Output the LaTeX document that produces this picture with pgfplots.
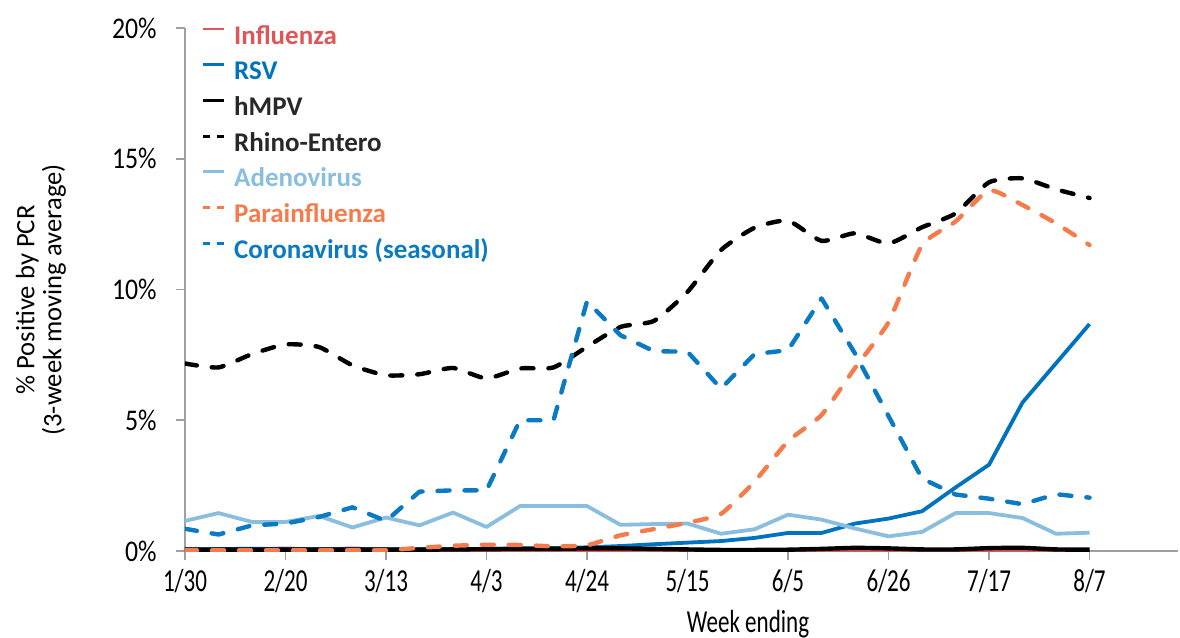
\documentclass[border=0pt]{standalone}
\usepackage{fontspec}
\setmainfont{Carlito}
\usepackage{pgfplots}
\usepackage{pgfplotstable}
\pgfplotsset{compat=1.18}
\definecolor{flu}{RGB}{220,88,88}
\definecolor{rsv}{RGB}{0,115,190}
\definecolor{hmpvtxt}{RGB}{40,40,40}
\definecolor{adeno}{RGB}{137,190,222}
\definecolor{para}{RGB}{244,124,76}
\definecolor{corona}{RGB}{10,122,195}
\definecolor{axisgray}{RGB}{160,160,160}

\pgfplotsset{
  solidleg/.style={legend image code/.code={\draw[##1, line width=1.4pt, line cap=butt] (0pt,4pt) -- (10.5pt,4pt);}},
  dashleg/.style={legend image code/.code={\draw[##1, solid, line width=1.4pt, line cap=butt] (0pt,4pt) -- (3.5pt,4pt) (7pt,4pt) -- (10.5pt,4pt);}},
}

\pgfplotstableread{
i flu rsv hmpv rhino adeno para corona
0 0.03 0.07 0.05 7.17 1.15 0.03 0.85
1 0.03 0.07 0.05 7.02 1.45 0.03 0.63
2 0.06 0.09 0.05 7.53 1.11 0.03 0.98
3 0.10 0.07 0.05 7.90 1.11 0.03 1.05
4 0.06 0.07 0.05 7.80 1.34 0.03 1.30
5 0.10 0.07 0.05 7.10 0.90 0.03 1.67
6 0.05 0.07 0.05 6.72 1.28 0.03 1.15
7 0.03 0.07 0.05 6.76 0.98 0.12 2.27
8 0.03 0.08 0.06 7.00 1.47 0.20 2.32
9 0.03 0.08 0.07 6.60 0.92 0.24 2.32
10 0.03 0.10 0.08 6.98 1.72 0.23 5.00
11 0.03 0.11 0.08 7.02 1.72 0.18 5.00
12 0.03 0.14 0.10 7.81 1.72 0.22 9.55
13 0.03 0.19 0.10 8.57 1.00 0.60 8.25
14 0.03 0.26 0.08 8.80 1.03 0.84 7.64
15 0.03 0.32 0.06 9.91 1.05 1.08 7.62
16 0.02 0.38 0.04 11.51 0.66 1.42 6.21
17 0.02 0.50 0.04 12.36 0.83 2.65 7.53
18 0.02 0.69 0.05 12.63 1.39 4.20 7.68
19 0.02 0.69 0.08 11.86 1.20 5.20 9.66
20 0.03 1.05 0.12 12.15 0.86 7.00 7.55
21 0.03 1.24 0.10 11.76 0.56 8.75 5.16
22 0.02 1.52 0.06 12.38 0.73 11.70 2.77
23 0.02 2.43 0.06 12.91 1.45 12.60 2.16
24 0.03 3.30 0.11 14.10 1.45 13.80 2.00
25 0.03 5.68 0.12 14.25 1.26 13.23 1.79
26 0.02 7.18 0.06 13.83 0.66 12.53 2.17
27 0.02 8.68 0.05 13.50 0.70 11.70 2.04
}\data

\begin{document}
\begin{tikzpicture}
\useasboundingbox (-92.5pt,-43.5pt) rectangle (497.5pt,275.5pt);
\begin{axis}[
  at={(0pt,0pt)}, anchor=south west,
  width=496.5pt, height=261.5pt, scale only axis,
  xmin=0, xmax=29.64, ymin=0, ymax=20,
  axis x line*=bottom, axis y line*=left,
  axis line style={draw=axisgray, line width=0.9pt},
  tick align=outside, major tick length=4.5pt,
  tick style={draw=axisgray, line width=0.9pt},
  xtick={0,3,...,27},
  xticklabels={1/30,2/20,3/13,4/3,4/24,5/15,6/5,6/26,7/17,8/7},
  ytick={0,5,10,15,20},
  yticklabels={0\%,5\%,10\%,15\%,20\%},
  xticklabel style={font=\fontsize{16}{16}\selectfont, inner sep=0pt, anchor=north, yshift=-4.5pt, xscale=0.72},
  yticklabel style={font=\fontsize{15}{15}\selectfont, inner sep=0pt, anchor=east, xshift=-9.5pt, xscale=0.86},
  xlabel={Week ending},
  xlabel style={at={(axis description cs:0.567,0)}, anchor=base, inner sep=0pt, yshift=-40.5pt, font=\fontsize{16}{16}\selectfont, xscale=0.72},
  ylabel={\% Positive by PCR\\(3-week moving average)},
  ylabel style={at={(axis description cs:-0.145,0.48)}, anchor=center, align=center, font=\fontsize{13.3}{13.5}\selectfont},
  legend style={at={(axis description cs:0,1)}, anchor=north west, xshift=8pt, yshift=2.2pt,
    draw=none, fill=none, inner sep=0pt, row sep=4.85pt,
    font=\fontsize{13.5}{14}\selectfont\bfseries,
    nodes={inner sep=0pt, text height=10pt, text depth=3pt},
    /tikz/every odd column/.append style={column sep=4.5pt}},
  legend cell align=left,
  every axis plot/.append style={line join=round},
]
\addplot[flu, line width=1.8pt, smooth, tension=0.3, solidleg]
  table[x=i, y=flu]{\data};
\addlegendentry{\textcolor{flu}{Influenza}}
\addplot[rsv, line width=1.9pt, solidleg]
  table[x=i, y=rsv]{\data};
\addlegendentry{\textcolor{rsv}{RSV}}
\addplot[black, line width=2.2pt, smooth, tension=0.3, solidleg]
  table[x=i, y=hmpv]{\data};
\addlegendentry{\textcolor{hmpvtxt}{hMPV}}
\addplot[black, line width=2.2pt, smooth, tension=0.35, line cap=round, dash pattern=on 6pt off 7.5pt, dashleg]
  table[x=i, y=rhino]{\data};
\addlegendentry{\textcolor{hmpvtxt}{Rhino-Entero}}
\addplot[adeno, line width=1.9pt, solidleg]
  table[x=i, y=adeno]{\data};
\addlegendentry{\textcolor{adeno}{Adenovirus}}
\addplot[para, line width=2.2pt, smooth, tension=0.3, line cap=round, dash pattern=on 6pt off 7.5pt, dashleg]
  table[x=i, y=para]{\data};
\addlegendentry{\textcolor{para}{Parainfluenza}}
\addplot[corona, line width=2.2pt, line cap=round, dash pattern=on 6pt off 7.5pt, dashleg]
  table[x=i, y=corona]{\data};
\addlegendentry{\textcolor{corona}{Coronavirus (seasonal)}}
\end{axis}
\end{tikzpicture}
\end{document}
